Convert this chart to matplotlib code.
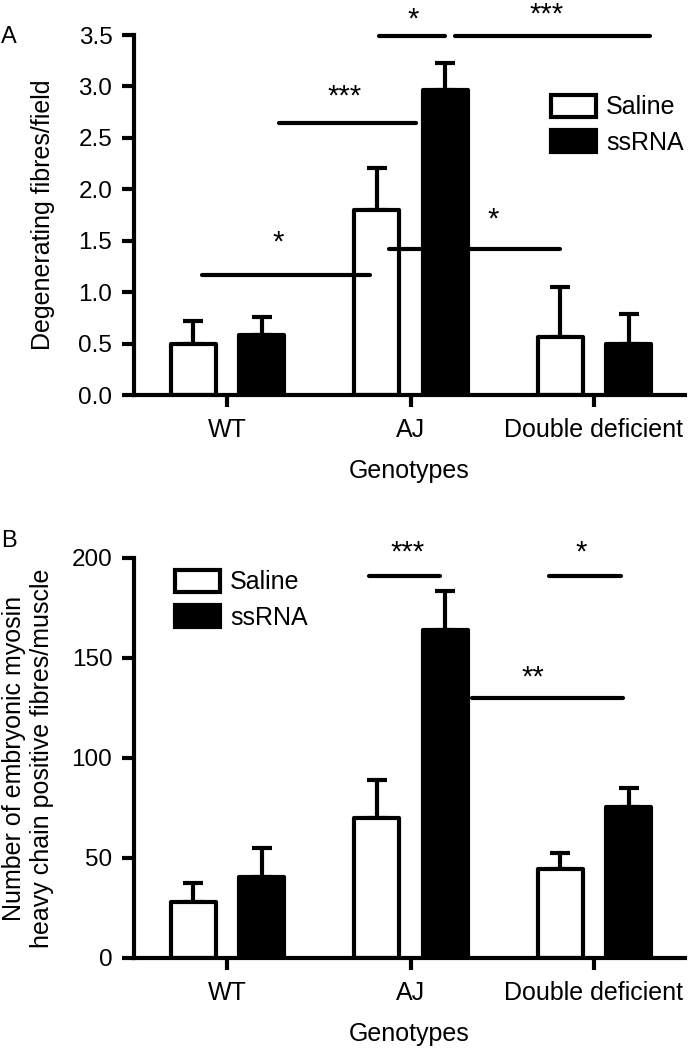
import matplotlib
matplotlib.use('Agg')
import matplotlib.pyplot as plt
import numpy as np

plt.rcParams['font.family'] = ['Liberation Sans', 'DejaVu Sans']

# ---------------- data ----------------
genotypes = ['WT', 'AJ', 'Double deficient']
series = ['Saline', 'ssRNA']

a_saline = [0.50, 1.80, 0.56]
a_saline_err = [0.22, 0.41, 0.49]
a_ssrna = [0.58, 2.97, 0.50]
a_ssrna_err = [0.18, 0.26, 0.29]
a_yticks = [0.0, 0.5, 1.0, 1.5, 2.0, 2.5, 3.0, 3.5]
a_ylabel = 'Degenerating fibres/field'

b_saline = [28.0, 70.0, 44.5]
b_saline_err = [9.5, 19.0, 8.0]
b_ssrna = [40.5, 164.0, 75.5]
b_ssrna_err = [14.5, 19.5, 9.5]
b_yticks = [0, 50, 100, 150, 200]
b_ylabel = 'Number of embryonic myosin\nheavy chain positive fibres/muscle'

xlabel = 'Genotypes'

# significance brackets: (x_start, x_end, y, label, label_x, label_y) in data units
a_sig = [(-0.136, 0.779, 1.17, '*', 0.278, 1.575),
         (0.283, 1.030, 2.645, '***', 0.643, 2.995),
         (0.883, 1.815, 1.42, '*', 1.450, 1.80),
         (0.828, 1.188, 3.49, '*', 1.014, 3.74),
         (1.243, 2.305, 3.49, '***', 1.744, 3.79)]
b_sig = [(0.774, 1.161, 191, '***', 0.986, 207.5),
         (1.755, 2.147, 191, '*', 1.929, 207.5),
         (1.335, 2.158, 130, '**', 1.668, 145)]

# ---------------- layout ----------------
W, H = 689, 1050
fig = plt.figure(figsize=(W / 100, H / 100), dpi=100)


def fx(px):
    return px / W


def fy(py):
    return 1 - py / H


X0, X1, UNIT = 134, 685, 183.5   # spine x, axis end x, px per category
XC0 = 227                        # first category pixel
LW = 3.0


def panel(top_px, bot_px, sal, sal_err, rna, rna_err, yticks, fmt, sig, leg_xy,
          letter, letter_base):
    ax = fig.add_axes([fx(X0), fy(bot_px), fx(X1) - fx(X0), fy(top_px) - fy(bot_px)])
    x = np.arange(len(genotypes))
    ax.set_xlim(-(XC0 - X0) / UNIT, (X1 - XC0) / UNIT)
    ax.set_ylim(yticks[0], yticks[-1])

    off_s, off_r, w = -0.185, 0.19, 0.245
    ax.errorbar(x + off_s, sal, yerr=[np.zeros(len(sal)), sal_err], fmt='none',
                ecolor='black', elinewidth=LW, capsize=7.2, capthick=LW, zorder=1)
    ax.errorbar(x + off_r, rna, yerr=[np.zeros(len(rna)), rna_err], fmt='none',
                ecolor='black', elinewidth=LW, capsize=7.2, capthick=LW, zorder=1)
    bs = ax.bar(x + off_s, sal, width=w, color='white', edgecolor='black',
                linewidth=LW, zorder=2, joinstyle='round', label=series[0])
    br = ax.bar(x + off_r, rna, width=w, color='black', edgecolor='black',
                linewidth=LW, zorder=2, joinstyle='round', label=series[1])

    for (xa, xb, yy, lab, lx, ly) in sig:
        ax.plot([xa, xb], [yy, yy], color='black', lw=LW, solid_capstyle='round',
                zorder=4, clip_on=False)
        ax.annotate(lab, (lx, ly), xytext=(0, -12.5), textcoords='offset points',
                    ha='center', va='baseline', fontsize=21, annotation_clip=False)

    ax.set_xticks(x)
    ax.set_xticklabels(genotypes)
    ax.set_yticks(yticks)
    ax.set_yticklabels([fmt.format(t) for t in yticks])
    for s in ['top', 'right']:
        ax.spines[s].set_visible(False)
    for s in ['left', 'bottom']:
        ax.spines[s].set_linewidth(LW)
        ax.spines[s].set_capstyle('projecting')
    ax.tick_params(axis='y', length=8.6, width=LW, pad=7, labelsize=17.5)
    ax.tick_params(axis='x', length=8.6, width=LW, pad=8, labelsize=18)

    ax.legend([bs, br], series, loc='upper left', bbox_to_anchor=(fx(leg_xy[0]), fy(leg_xy[1])),
              bbox_transform=fig.transFigure, frameon=False, fontsize=18, borderpad=0,
              borderaxespad=0, handlelength=1.8, handleheight=0.96, handletextpad=0.4,
              labelspacing=0.44)
    fig.text(fx(1), fy(letter_base), letter, fontsize=17, va='baseline', ha='left')
    fig.text(fx((X0 + X1) / 2), fy(bot_px + 76), xlabel, fontsize=18, ha='center', va='center')
    return ax


axA = panel(35, 395, a_saline, a_saline_err, a_ssrna, a_ssrna_err, a_yticks, '{:.1f}',
            a_sig, (551, 95), 'A', 43)
fig.text(fx(43), fy(215), a_ylabel, fontsize=18, rotation=90, ha='center', va='center')

axB = panel(558, 958, b_saline, b_saline_err, b_ssrna, b_ssrna_err, b_yticks, '{:d}',
            b_sig, (175, 570), 'B', 547)
fig.text(fx(28), fy(758), b_ylabel, fontsize=18, rotation=90, ha='center', va='center',
         multialignment='center', linespacing=1.2)

fig.savefig('out.png', dpi=100)
